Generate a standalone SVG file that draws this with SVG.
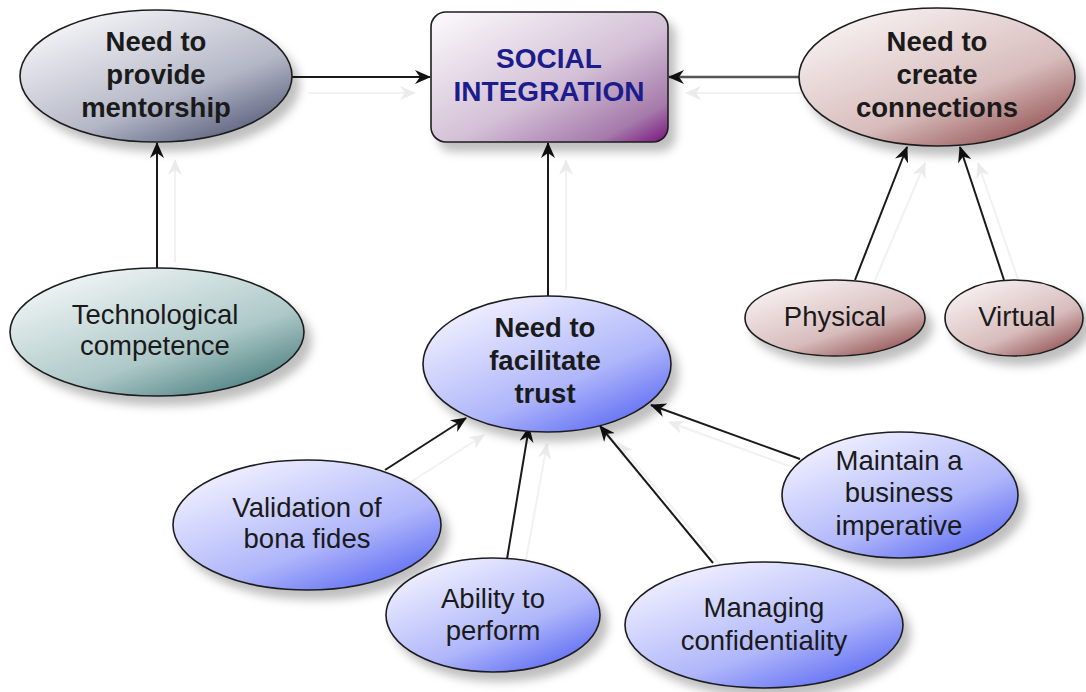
<svg xmlns="http://www.w3.org/2000/svg" width="1086" height="692" viewBox="0 0 1086 692">
<defs>
<linearGradient id="gGrey" x1="0.15" y1="0.05" x2="0.9" y2="1">
<stop offset="0" stop-color="#f6f6f9"/><stop offset="0.6" stop-color="#b4b7c6"/><stop offset="1" stop-color="#4a5070"/>
</linearGradient>
<linearGradient id="gPurple" x1="0" y1="0" x2="1" y2="1">
<stop offset="0" stop-color="#fdfbfd"/><stop offset="0.55" stop-color="#d3c0d6"/><stop offset="0.85" stop-color="#a57aaa"/><stop offset="1" stop-color="#7a127e"/>
</linearGradient>
<linearGradient id="gRed" x1="0.15" y1="0.05" x2="0.9" y2="1">
<stop offset="0" stop-color="#f8f2f2"/><stop offset="0.6" stop-color="#d8bcbc"/><stop offset="1" stop-color="#8a4444"/>
</linearGradient>
<linearGradient id="gTeal" x1="0.15" y1="0.05" x2="0.9" y2="1">
<stop offset="0" stop-color="#f2f6f6"/><stop offset="0.6" stop-color="#adc8c8"/><stop offset="1" stop-color="#3c7474"/>
</linearGradient>
<linearGradient id="gBlue" x1="0.15" y1="0.05" x2="0.9" y2="1">
<stop offset="0" stop-color="#f2f2ff"/><stop offset="0.6" stop-color="#afb6fa"/><stop offset="1" stop-color="#5060f2"/>
</linearGradient>
<filter id="sh" x="-20%" y="-20%" width="150%" height="160%">
<feDropShadow dx="7" dy="9" stdDeviation="5" flood-color="#000" flood-opacity="0.25"/>
</filter>
<marker id="arr" viewBox="0 0 16 14" refX="15" refY="7" markerWidth="16" markerHeight="14" markerUnits="userSpaceOnUse" orient="auto">
<path d="M0,0 L16,7 L0,14 L5,7 z" fill="#111"/>
</marker>
<marker id="arrS" viewBox="0 0 16 14" refX="15" refY="7" markerWidth="16" markerHeight="14" markerUnits="userSpaceOnUse" orient="auto">
<path d="M0,0 L16,7 L0,14 L5,7 z" fill="#ebebeb"/>
</marker>
</defs>
<style>
.n{stroke:#1e1e1e;stroke-width:1.6;filter:url(#sh)}
.t{font-family:"Liberation Sans",Arial,sans-serif;font-size:27.5px;fill:#1a1a1a;text-anchor:middle}
.b{font-weight:bold}
.c{fill:none;stroke:#1a1a1a;stroke-width:2;marker-end:url(#arr)}
.s{fill:none;stroke:#f1f1f1;stroke-width:2;marker-end:url(#arrS)}
</style>
<rect width="1086" height="692" fill="#ffffff"/>
<g id="connectors">
<line class="s" x1="308" y1="93" x2="415" y2="93"/>
<line class="s" x1="815" y1="93" x2="686" y2="93"/>
<line class="s" x1="566" y1="290" x2="566" y2="160"/>
<line class="s" x1="175" y1="262" x2="175" y2="160"/>
<line class="s" x1="873" y1="285" x2="925" y2="163"/>
<line class="s" x1="1020" y1="285" x2="978" y2="163"/>
<line class="s" x1="403" y1="487" x2="484" y2="435"/>
<line class="s" x1="525" y1="565" x2="547" y2="444"/>
<line class="s" x1="729" y1="575" x2="618" y2="443"/>
<line class="s" x1="816" y1="476" x2="669" y2="422"/>
<line class="c" x1="292" y1="77" x2="430" y2="77"/>
<line class="c" x1="799" y1="77" x2="669" y2="77" style="stroke:#555;stroke-width:2.5"/>
<line class="c" x1="548" y1="296" x2="548" y2="143"/>
<line class="c" x1="157" y1="268" x2="157" y2="143"/>
<line class="c" x1="855" y1="280" x2="907" y2="147"/>
<line class="c" x1="1004" y1="280" x2="960" y2="147"/>
<line class="c" x1="385" y1="470" x2="466" y2="418"/>
<line class="c" x1="507" y1="559" x2="529" y2="427"/>
<line class="c" x1="713" y1="563" x2="600" y2="426"/>
<line class="c" x1="800" y1="459" x2="651" y2="405"/>
</g>
<g id="social-integration">
<rect class="n" x="431" y="12" width="237" height="130" rx="15" fill="url(#gPurple)"/>
<text class="t b" x="549" y="68" style="font-size:28px;fill:#1c1c8c">SOCIAL</text>
<text class="t b" x="549" y="101" style="font-size:28px;fill:#1c1c8c">INTEGRATION</text>
</g>
<g id="mentorship">
<ellipse class="n" cx="156" cy="76" rx="136" ry="66" fill="url(#gGrey)"/>
<text class="t b" x="156" y="51">Need to</text>
<text class="t b" x="156" y="84">provide</text>
<text class="t b" x="156" y="117">mentorship</text>
</g>
<g id="connections">
<ellipse class="n" cx="937" cy="77" rx="138" ry="69" fill="url(#gRed)"/>
<text class="t b" x="937" y="51">Need to</text>
<text class="t b" x="937" y="84">create</text>
<text class="t b" x="937" y="117">connections</text>
</g>
<g id="technological-competence">
<ellipse class="n" cx="157" cy="332" rx="147" ry="64" fill="url(#gTeal)"/>
<text class="t" x="155" y="324">Technological</text>
<text class="t" x="155" y="355">competence</text>
</g>
<g id="physical">
<ellipse class="n" cx="835" cy="318" rx="90" ry="38" fill="url(#gRed)"/>
<text class="t" x="835" y="326">Physical</text>
</g>
<g id="virtual">
<ellipse class="n" cx="1014" cy="318" rx="69" ry="38" fill="url(#gRed)"/>
<text class="t" x="1017" y="326">Virtual</text>
</g>
<g id="facilitate-trust">
<ellipse class="n" cx="547" cy="364" rx="124" ry="68" fill="url(#gBlue)"/>
<text class="t b" x="545" y="337">Need to</text>
<text class="t b" x="545" y="370">facilitate</text>
<text class="t b" x="545" y="403">trust</text>
</g>
<g id="validation">
<ellipse class="n" cx="307" cy="525" rx="134" ry="65" fill="url(#gBlue)"/>
<text class="t" x="307" y="517">Validation of</text>
<text class="t" x="307" y="548">bona fides</text>
</g>
<g id="ability">
<ellipse class="n" cx="493" cy="615" rx="107" ry="57" fill="url(#gBlue)"/>
<text class="t" x="493" y="608">Ability to</text>
<text class="t" x="493" y="640">perform</text>
</g>
<g id="managing">
<ellipse class="n" cx="764" cy="625" rx="139" ry="63" fill="url(#gBlue)"/>
<text class="t" x="764" y="617">Managing</text>
<text class="t" x="764" y="650">confidentiality</text>
</g>
<g id="maintain">
<ellipse class="n" cx="900" cy="495" rx="118" ry="63" fill="url(#gBlue)"/>
<text class="t" x="899" y="470">Maintain a</text>
<text class="t" x="899" y="502">business</text>
<text class="t" x="899" y="535">imperative</text>
</g>
</svg>
